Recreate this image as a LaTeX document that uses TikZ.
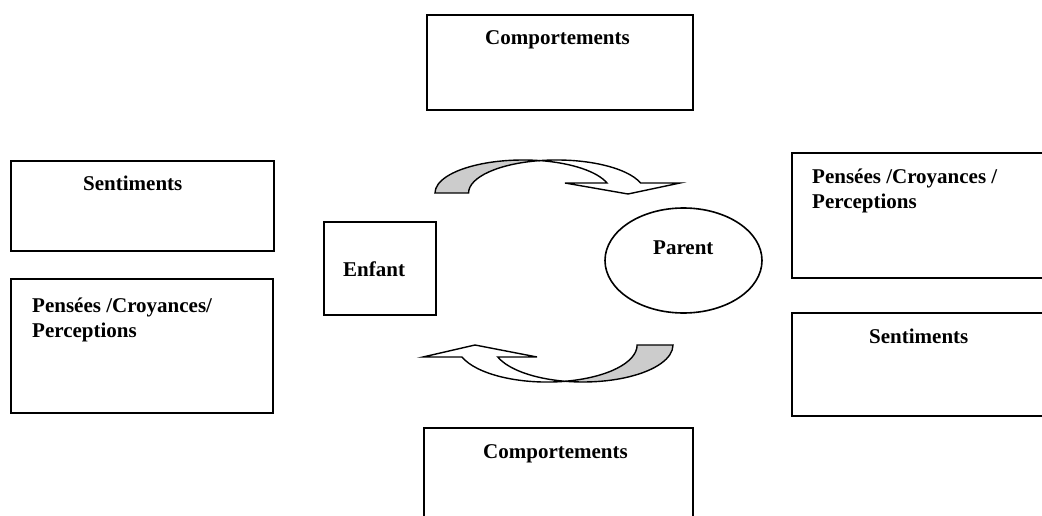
\documentclass[tikz,border=0pt]{standalone}
\usepackage{fontspec}
\setmainfont{Liberation Serif}
\usetikzlibrary{shapes.geometric}
\begin{document}
\begin{tikzpicture}[x=1pt,y=-1pt,
  box/.style={draw, line width=1.8pt, rectangle, inner sep=0pt, anchor=north west},
  lbl/.style={font=\fontsize{21}{25}\selectfont\bfseries, inner sep=0pt, anchor=base west},
  band/.style={draw, line width=1.4pt, line join=miter},
  back/.style={band, fill=black!20},
  front/.style={band, fill=white}]
\useasboundingbox (0,0) rectangle (1042,516);
\clip (0,0) rectangle (1042,516);

% boxes
\node[box, minimum width=266pt, minimum height=95pt] (topbox) at (426,14) {};
\node[box, minimum width=263pt, minimum height=90pt] (lsentbox) at (10,160) {};
\node[box, minimum width=262pt, minimum height=134pt] (lpensbox) at (10,278) {};
\node[box, minimum width=112pt, minimum height=93pt] (enfantbox) at (323,221) {};
\node[box, minimum width=280pt, minimum height=125pt] (rpensbox) at (791,152) {};
\node[box, minimum width=280pt, minimum height=103pt] (rsentbox) at (791,312) {};
\node[box, minimum width=269pt, minimum height=110pt] (botbox) at (423,427) {};
\node[ellipse, draw, line width=1.6pt, minimum width=157pt, minimum height=105pt, inner sep=0pt] (parent) at (683.5,260.5) {};

% labels
\node[lbl] (ttop) at (485,45) {Comportements};
\node[lbl] (tlsent) at (83,190) {Sentiments};
\node[lbl] (tlpens) at (32,312) {\vtop{\hbox{Pensées /Croyances/}\hbox{Perceptions}}};
\node[lbl] (tenfant) at (343,276) {Enfant};
\node[lbl] (tparent) at (653,254) {Parent};
\node[lbl] (trpens) at (812,183) {\vtop{\hbox{Pensées /Croyances /}\hbox{Perceptions}}};
\node[lbl] (trsent) at (869,343) {Sentiments};
\node[lbl] (tbot) at (483,458) {Comportements};

% top curved arrow (towards Parent)
\path[back] (435,193) arc[start angle=180, end angle=281, x radius=88, y radius=33]
  arc[start angle=259, end angle=180, x radius=88, y radius=33] -- cycle;
\path[front] (539.9,160.6) arc[start angle=259, end angle=342.4, x radius=88, y radius=33]
  -- (680,183) -- (628,194) -- (565,183) -- (607,183)
  arc[start angle=342.4, end angle=281, x radius=88, y radius=33] -- cycle;

% bottom curved arrow (towards Enfant)
\path[back] (673,345) arc[start angle=0, end angle=101.5, x radius=90, y radius=37]
  arc[start angle=78.5, end angle=0, x radius=90, y radius=37] -- cycle;
\path[front] (565.1,381.3) arc[start angle=78.5, end angle=161.1, x radius=90, y radius=37]
  -- (423,357) -- (475,345) -- (537,357) -- (497.8,357)
  arc[start angle=161.1, end angle=101.5, x radius=90, y radius=37] -- cycle;
\end{tikzpicture}
\end{document}
